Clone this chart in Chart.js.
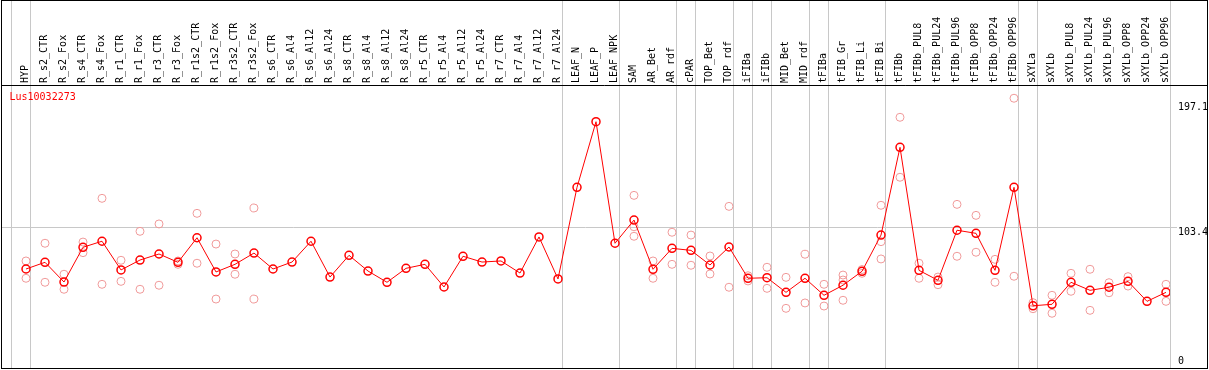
<!DOCTYPE html>
<html><head><meta charset="utf-8">
<script src="https://cdn.jsdelivr.net/npm/chart.js@4"></script>
<style>html,body{margin:0;padding:0;background:#fff;} canvas{display:block;}</style>
</head><body>
<canvas id="c" width="1209" height="370"></canvas>
<script>
const geneName = 'Lus10032273';
const categories = ['HYP','R_s2_CTR','R_s2_Fox','R_s4_CTR','R_s4_Fox','R_r1_CTR','R_r1_Fox','R_r3_CTR','R_r3_Fox','R_r1s2_CTR','R_r1s2_Fox','R_r3s2_CTR','R_r3s2_Fox','R_s6_CTR','R_s6_Al4','R_s6_Al12','R_s6_Al24','R_s8_CTR','R_s8_Al4','R_s8_Al12','R_s8_Al24','R_r5_CTR','R_r5_Al4','R_r5_Al12','R_r5_Al24','R_r7_CTR','R_r7_Al4','R_r7_Al12','R_r7_Al24','LEAF_N','LEAF_P','LEAF_NPK','SAM','AR_Bet','AR_rdf','cPAR','TOP_Bet','TOP_rdf','iFIBa','iFIBb','MID_Bet','MID_rdf','tFIBa','tFIB_Gr','tFIB_Li','tFIB_Bi','tFIBb','tFIBb_PUL8','tFIBb_PUL24','tFIBb_PUL96','tFIBb_OPP8','tFIBb_OPP24','tFIBb_OPP96','sXYLa','sXYLb','sXYLb_PUL8','sXYLb_PUL24','sXYLb_PUL96','sXYLb_OPP8','sXYLb_OPP24','sXYLb_OPP96'];
const means = [72.6,77.6,62.9,88.8,93.3,71.9,79.3,83.8,77.6,95.9,70.4,76.1,84.5,72.6,77.8,93.3,66.6,82.8,71.1,62.7,73.1,76.1,59.2,82.1,77.8,78.6,69.6,96.5,65.2,133.5,182.4,91.8,109.1,72.4,88.0,86.5,75.6,89.0,65.7,66.1,55.2,65.7,53.0,60.5,70.9,97.9,163.3,71.6,64.2,101.5,99.2,71.6,133.5,45.2,46.3,62.7,56.7,59.0,63.4,48.5,55.2];
const rep1 = [78.6,91.8,68.7,92.7,125.3,79.1,100.7,106.2,78.6,114.1,91.2,83.8,118.1,null,null,null,null,null,null,null,null,null,null,null,null,null,null,null,null,null,null,null,127.5,78.6,100.0,97.9,82.3,119.3,67.6,73.9,66.4,83.6,61.2,68.1,72.2,120.1,185.7,76.9,66.6,120.8,112.6,79.8,199.9,47.5,53.0,69.4,72.4,62.4,66.9,null,61.2];
const rep2 = [65.7,62.7,57.5,84.8,61.2,63.4,57.5,60.5,76.1,76.9,50.2,68.7,50.2,null,null,null,null,null,null,null,null,null,null,null,null,null,null,null,null,null,null,null,104.1,65.7,76.1,75.4,68.9,59.0,63.7,58.2,43.3,47.3,45.0,64.4,69.4,93.0,141.0,65.7,60.9,82.1,85.1,62.7,67.2,43.0,39.6,56.0,41.8,54.9,59.9,null,48.5];
const rep3 = [null,null,null,null,null,null,null,null,null,null,null,null,null,null,null,null,null,null,null,null,null,null,null,null,null,null,null,null,null,null,null,null,97.0,null,null,null,null,null,null,null,null,null,null,49.3,null,80.1,null,null,null,null,null,null,null,null,null,null,null,null,null,null,null];
const yTickValues = [0, 103.4, 197.1];
const yGridValues = [103.4];
const groupEnds = [-1, 0, 28, 31, 34, 35, 37, 38, 39, 41, 42, 45, 52, 53, 60];

const FONT = {family: '"DejaVu Sans Mono", monospace', size: 10, lineHeight: 1};
const meanPts = means.map((v, i) => ({x: i, y: v}));
const repPts = [];
[rep1, rep2, rep3].forEach(arr => arr.forEach((v, i) => { if (v !== null) repPts.push({x: i, y: v}); }));

const zeroPad = s => { s.paddingLeft = 0; s.paddingRight = 0; s.paddingTop = 0; s.paddingBottom = 0; };

const decor = {
  id: 'decor',
  beforeDatasetsDraw(chart) {
    const {ctx, chartArea, scales: {x}} = chart;
    ctx.save();
    ctx.strokeStyle = '#c8c8c8';
    ctx.lineWidth = 1;
    groupEnds.forEach(g => {
      const px = Math.round(x.getPixelForValue(g + 0.22)) + 0.5;
      ctx.beginPath(); ctx.moveTo(px, 0); ctx.lineTo(px, chartArea.bottom); ctx.stroke();
    });
    ctx.restore();
  },
  afterDraw(chart) {
    const {ctx, chartArea, width} = chart;
    ctx.save();
    ctx.strokeStyle = '#000';
    ctx.lineWidth = 1;
    ctx.strokeRect(1.5, 0.5, width - 3, chartArea.bottom);
    ctx.beginPath(); ctx.moveTo(1, chartArea.top + 0.5); ctx.lineTo(width - 1.5, chartArea.top + 0.5); ctx.stroke();
    ctx.fillStyle = '#ff0000';
    ctx.font = '10px "DejaVu Sans Mono", monospace';
    ctx.textBaseline = 'middle';
    ctx.textAlign = 'left';
    ctx.fillText(geneName, chartArea.left + 8.5, chartArea.top + 12.5);
    ctx.restore();
  }
};

new Chart(document.getElementById('c'), {
  data: {
    datasets: [
      {type: 'line', data: meanPts, borderColor: '#ff0000', borderWidth: 1, pointRadius: 4, pointBorderWidth: 1.5,
       pointBorderColor: '#ff0000', pointBackgroundColor: 'rgba(0,0,0,0)', tension: 0},
      {type: 'scatter', data: repPts, pointRadius: 4, pointBorderWidth: 1, pointBorderColor: '#f09a9a',
       pointBackgroundColor: 'rgba(0,0,0,0)'}
    ]
  },
  options: {
    responsive: false,
    animation: false,
    layout: {autoPadding: false, padding: {left: 1, right: 0, top: 0, bottom: 2}},
    plugins: {legend: {display: false}, tooltip: {enabled: false}},
    scales: {
      x: {
        type: 'linear', position: 'top', min: -1.316, max: categories.length - 1 + 0.21,
        afterBuildTicks: s => { s.ticks = categories.map((_, i) => ({value: i})); },
        afterFit: s => { s.height = 85; zeroPad(s); },
        grid: {display: false, drawTicks: false},
        border: {display: false},
        ticks: {autoSkip: false, minRotation: 90, maxRotation: 90, padding: 2, labelOffset: 9, color: '#000', font: FONT,
                callback: v => categories[v]}
      },
      y: {
        type: 'linear', position: 'right', min: -1.19, max: 209.77,
        afterBuildTicks: s => { s.ticks = yTickValues.map(v => ({value: v})); },
        afterFit: s => { s.width = 39; zeroPad(s); },
        border: {display: false},
        grid: {color: c => (c.tick && yGridValues.includes(c.tick.value)) ? '#c8c8c8' : 'rgba(0,0,0,0)',
               drawTicks: true, tickLength: 7, lineWidth: 1},
        ticks: {color: '#000', font: FONT, padding: 1,
                callback: v => v === 0 ? [String(v), ''] : ['', String(v)]}
      }
    }
  },
  plugins: [decor]
});
</script>
</body></html>
